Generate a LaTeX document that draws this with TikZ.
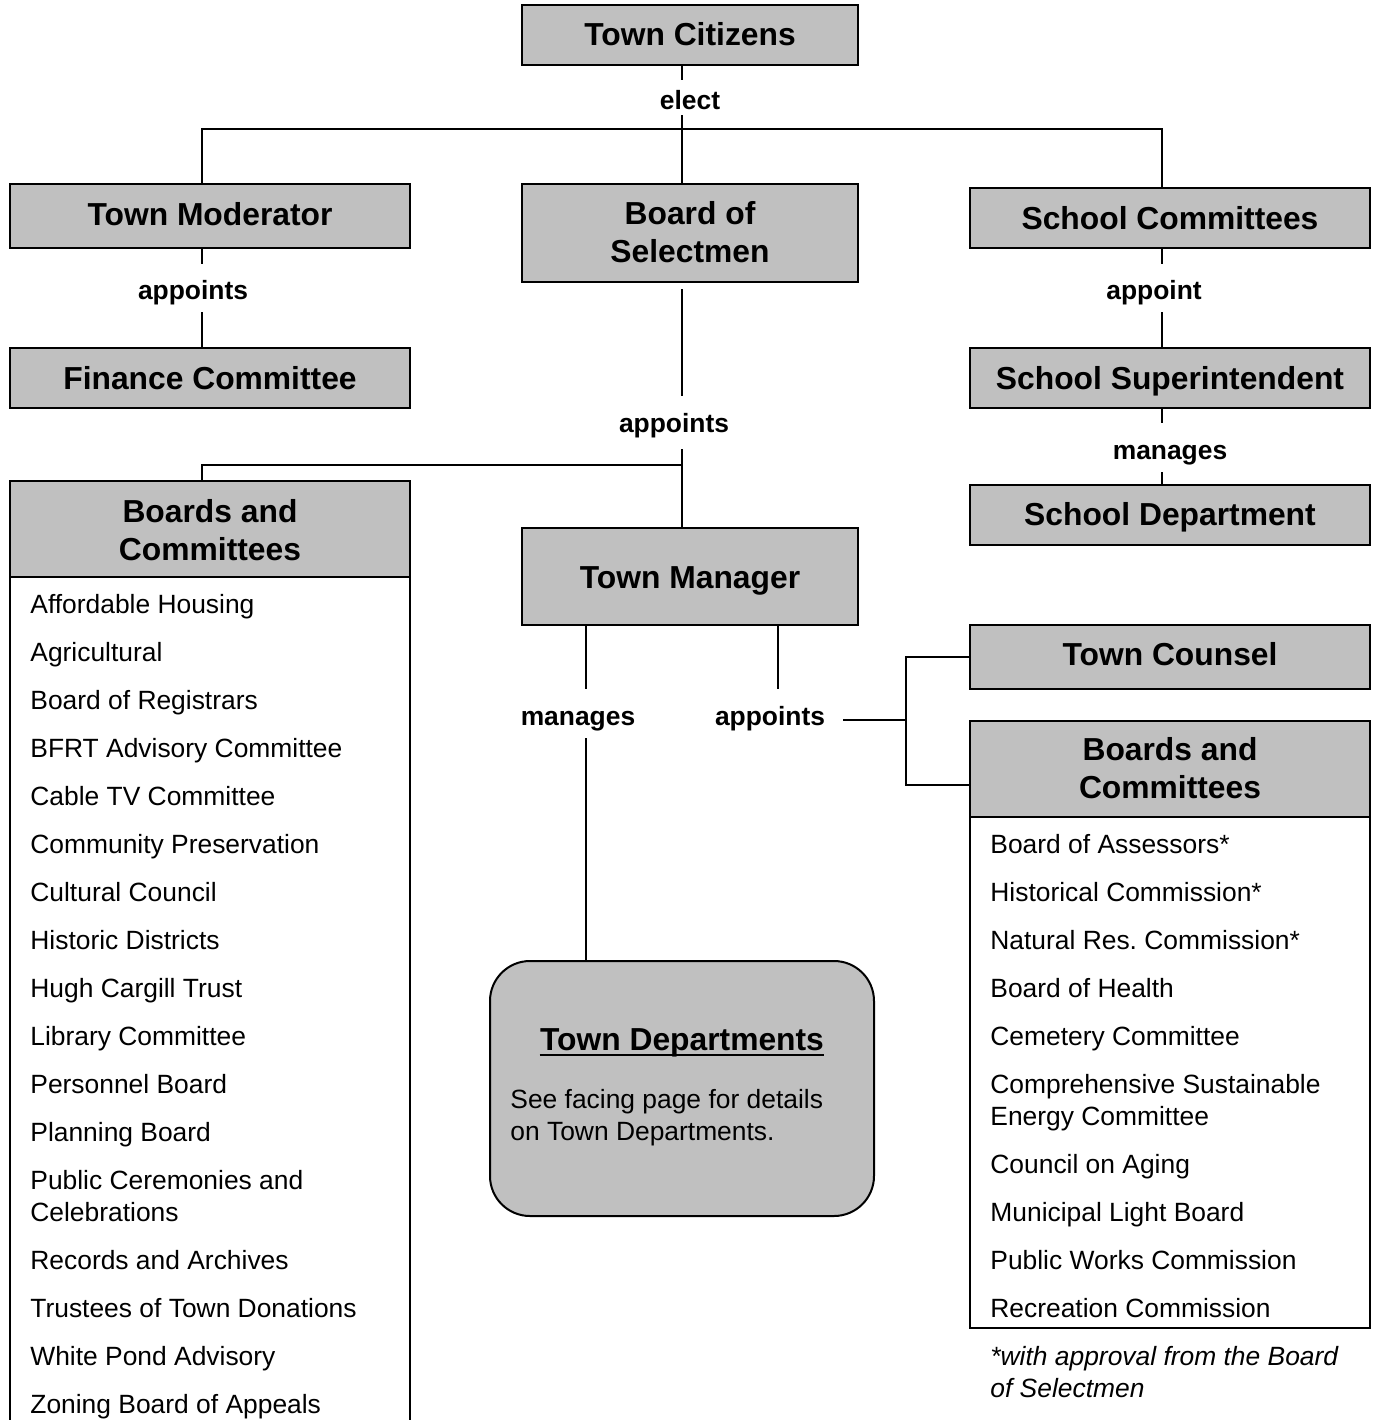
\documentclass[tikz,border=0pt]{standalone}
\usepackage{fontspec}
\setmainfont{Liberation Sans}
\usetikzlibrary{fit}
\definecolor{boxgray}{RGB}{192,192,192}
\frenchspacing
\begin{document}
\begin{tikzpicture}[x=0.5pt,y=-0.5pt,
  box/.style={draw, fill=boxgray, line width=1pt, inner sep=0pt},
  plain/.style={draw, fill=white, line width=1pt, inner sep=0pt},
  hd/.style={font=\fontsize{15.9}{19}\selectfont\bfseries, anchor=base, inner sep=0pt},
  lbl/.style={font=\fontsize{13.2}{16}\selectfont\bfseries, anchor=base, inner sep=0pt},
  item/.style={font=\fontsize{13.2}{16}\selectfont, anchor=base west, inner sep=0pt},
  note/.style={font=\fontsize{13.2}{16}\selectfont\itshape, anchor=base west, inner sep=0pt},
  conn/.style={line width=1pt}]
\useasboundingbox (0,0) rectangle (1372,1420);

% ---- boxes ----
\node[box, fit={(522,5) (858,65)}] (tc) {};
\node[box, fit={(10,184) (410,248)}] (tmod) {};
\node[box, fit={(522,184) (858,282)}] (bos) {};
\node[box, fit={(970,188) (1370,248)}] (sc) {};
\node[box, fit={(10,348) (410,408)}] (fc) {};
\node[box, fit={(970,348) (1370,408)}] (ss) {};
\node[box, fit={(970,485) (1370,545)}] (sd) {};
\node[plain, fit={(10,577) (410,1434)}] (bclbody) {};
\node[box, fit={(10,481) (410,577)}] (bcl) {};
\node[box, fit={(522,528) (858,625)}] (tman) {};
\node[box, fit={(970,625) (1370,689)}] (tcoun) {};
\node[plain, fit={(970,817) (1370,1328)}] (bcrbody) {};
\node[box, fit={(970,721) (1370,817)}] (bcr) {};
\node[box, rounded corners=20pt, fit={(490,961) (874,1216)}] (tdep) {};

% ---- connectors ----
\coordinate (eA) at (682,80);  \coordinate (eB) at (682,115);
\coordinate (jL) at (202,129); \coordinate (jR) at (1162,129);
\draw[conn] (tc.south -| eA) -- (eA);
\draw[conn] (eB) -- (bos.north -| eB);
\draw[conn] (tmod.north -| jL) -- (jL) -- (jR) -- (sc.north -| jR);

\coordinate (mA) at (202,264); \coordinate (mB) at (202,312);
\draw[conn] (tmod.south -| mA) -- (mA);
\draw[conn] (mB) -- (fc.north -| mB);

\coordinate (sA) at (1162,264); \coordinate (sB) at (1162,312);
\coordinate (sC) at (1162,423); \coordinate (sD) at (1162,472);
\draw[conn] (sc.south -| sA) -- (sA);
\draw[conn] (sB) -- (ss.north -| sB);
\draw[conn] (ss.south -| sC) -- (sC);
\draw[conn] (sD) -- (sd.north -| sD);

\coordinate (bA) at (682,289); \coordinate (bB) at (682,396);
\coordinate (bC) at (682,449); \coordinate (bJ) at (682,465);
\coordinate (bL) at (202,465);
\draw[conn] (bA) -- (bB);
\draw[conn] (bC) -- (bJ) -- (tman.north -| bJ);
\draw[conn] (bJ) -- (bL) -- (bcl.north -| bL);

\coordinate (mgA) at (586,689); \coordinate (mgB) at (586,738);
\coordinate (apA) at (778,689);
\draw[conn] (tman.south -| mgA) -- (mgA);
\draw[conn] (mgB) -- (tdep.north -| mgB);
\draw[conn] (tman.south -| apA) -- (apA);

\coordinate (apR) at (843,720); \coordinate (apJ) at (906,720);
\coordinate (apL) at (906,785);
\draw[conn] (apR) -- (apJ);
\draw[conn] (tcoun.west) -- (tcoun.west -| apJ) -- (apL) -- (apL -| bcr.west);

% ---- headings ----
\node[hd] (tct) at (690,45) {Town Citizens};
\node[hd] (tmodt) at (210,225) {Town Moderator};
\node[hd] (bost1) at (690,224) {Board of};
\node[hd] (bost2) at (690,262) {Selectmen};
\node[hd] (sct) at (1170,229) {School Committees};
\node[hd] (fct) at (210,389) {Finance Committee};
\node[hd] (sst) at (1170,389) {School Superintendent};
\node[hd] (sdt) at (1170,525) {School Department};
\node[hd] (bclt1) at (210,522) {Boards and};
\node[hd] (bclt2) at (210,560) {Committees};
\node[hd] (tmant) at (690,588) {Town Manager};
\node[hd] (tcount) at (1170,665) {Town Counsel};
\node[hd] (bcrt1) at (1170,760) {Boards and};
\node[hd] (bcrt2) at (1170,798) {Committees};
\node[hd] (tdept) at (682,1050) {Town Departments};
\draw[line width=1.2pt] ([yshift=-2.4pt]tdept.base west) -- ([yshift=-2.4pt]tdept.base east);
\node[item] (tdepd1) at (510,1108) {See facing page for details};
\node[item] (tdepd2) at (510,1140) {on Town Departments.};

% ---- labels ----
\node[lbl] (l1) at (690,109) {elect};
\node[lbl] (l2) at (193,299) {appoints};
\node[lbl] (l3) at (1154,299) {appoint};
\node[lbl] (l4) at (1170,459) {manages};
\node[lbl] (l5) at (674,432) {appoints};
\node[lbl] (l6) at (578,725) {manages};
\node[lbl] (l7) at (770,725) {appoints};

% ---- left list ----
\node[item] (a1) at (30,613) {Affordable Housing};
\node[item] (a2) at (30,661) {Agricultural};
\node[item] (a3) at (30,709) {Board of Registrars};
\node[item] (a4) at (30,757) {BFRT Advisory Committee};
\node[item] (a5) at (30,805) {Cable TV Committee};
\node[item] (a6) at (30,853) {Community Preservation};
\node[item] (a7) at (30,901) {Cultural Council};
\node[item] (a8) at (30,949) {Historic Districts};
\node[item] (a9) at (30,997) {Hugh Cargill Trust};
\node[item] (a10) at (30,1045) {Library Committee};
\node[item] (a11) at (30,1093) {Personnel Board};
\node[item] (a12) at (30,1141) {Planning Board};
\node[item] (a13) at (30,1189) {Public Ceremonies and};
\node[item] (a13b) at (30,1221) {Celebrations};
\node[item] (a14) at (30,1269) {Records and Archives};
\node[item] (a15) at (30,1317) {Trustees of Town Donations};
\node[item] (a16) at (30,1365) {White Pond Advisory};
\node[item] (a17) at (30,1413) {Zoning Board of Appeals};

% ---- right list ----
\node[item] (b1) at (990,853) {Board of Assessors*};
\node[item] (b2) at (990,901) {Historical Commission*};
\node[item] (b3) at (990,949) {Natural Res.\ Commission*};
\node[item] (b4) at (990,997) {Board of Health};
\node[item] (b5) at (990,1045) {Cemetery Committee};
\node[item] (b6) at (990,1093) {Comprehensive Sustainable};
\node[item] (b6b) at (990,1125) {Energy Committee};
\node[item] (b7) at (990,1173) {Council on Aging};
\node[item] (b8) at (990,1221) {Municipal Light Board};
\node[item] (b9) at (990,1269) {Public Works Commission};
\node[item] (b10) at (990,1317) {Recreation Commission};

\node[note] (n1) at (990,1365) {*with approval from the Board};
\node[note] (n2) at (990,1397) {of Selectmen};
\end{tikzpicture}
\end{document}
